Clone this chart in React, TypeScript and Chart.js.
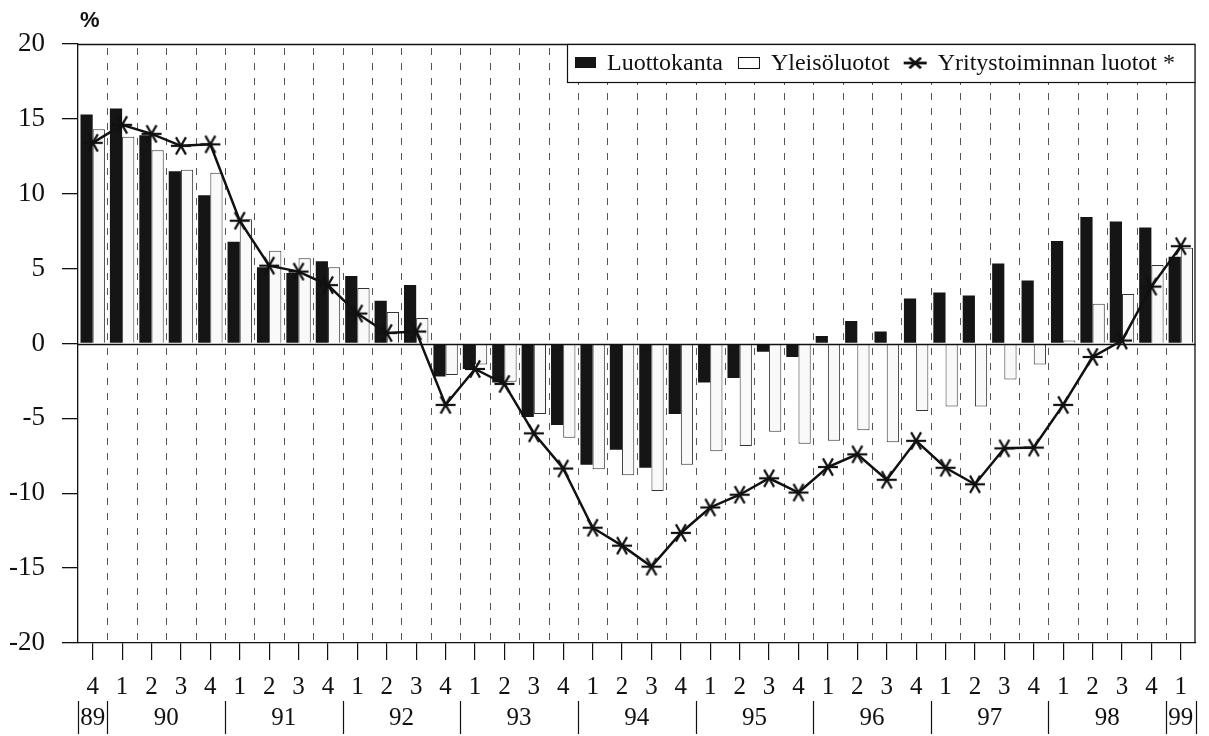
import React, { useEffect, useRef } from 'react';
import { Chart, registerables } from 'chart.js';

Chart.register(...registerables);

const quarterLabels = [
  '4',
  '1', '2', '3', '4',
  '1', '2', '3', '4',
  '1', '2', '3', '4',
  '1', '2', '3', '4',
  '1', '2', '3', '4',
  '1', '2', '3', '4',
  '1', '2', '3', '4',
  '1', '2', '3', '4',
  '1', '2', '3', '4',
  '1',
];
const years = ['89', '90', '91', '92', '93', '94', '95', '96', '97', '98', '99'];
const quartersPerYear = [1, 4, 4, 4, 4, 4, 4, 4, 4, 4, 1];

const luottokanta = [
  15.3, 15.7, 13.9, 11.5, 9.9, 6.8, 5.1, 4.7, 5.5, 4.5, 2.85, 3.9,
  -2.2, -1.7, -2.6, -4.9, -5.45, -8.1, -7.1, -8.3, -4.7, -2.6, -2.3, -0.55, -0.9,
  0.5, 1.5, 0.8, 3.0, 3.4, 3.2, 5.35, 4.2, 6.85, 8.45, 8.15, 7.75, 5.8,
];
const yleisoluotot = [
  14.3, 13.8, 12.9, 11.6, 11.4, 8.3, 6.2, 5.7, 5.1, 3.7, 2.1, 1.7,
  -2.1, -1.4, -2.55, -4.7, -6.3, -8.4, -8.8, -9.85, -8.1, -7.2, -6.85, -5.9, -6.7,
  -6.5, -5.8, -6.6, -4.5, -4.2, -4.2, -2.4, -1.4, 0.2, 2.65, 3.3, 5.25, 6.4,
];
const yritysluotot = [
  13.4, 14.6, 14.0, 13.2, 13.3, 8.2, 5.2, 4.8, 3.9, 2.0, 0.7, 0.8,
  -4.1, -1.7, -2.7, -6.0, -8.35, -12.3, -13.5, -14.9, -12.65, -10.95, -10.1, -9.0, -9.95,
  -8.25, -7.4, -9.1, -6.5, -8.3, -9.4, -7.0, -6.95, -4.1, -0.9, 0.2, 3.8, 6.5,
];

const seriesNames = ['Luottokanta', 'Yleisöluotot', 'Yritystoiminnan luotot *'];
const yMin = -20;
const yMax = 20;
const yStep = 5;
const unitLabel = '%';

const SERIF = '"Liberation Serif", "Times New Roman", serif';
const SANS = '"Liberation Sans", Arial, sans-serif';
const INK = '#111';

function makeAsterisk(w: number, h: number, lw: number): HTMLCanvasElement {
  const c = document.createElement('canvas');
  c.width = w;
  c.height = h;
  const ctx = c.getContext('2d')!;
  ctx.strokeStyle = INK;
  ctx.lineWidth = lw;
  ctx.lineCap = 'butt';
  const cx = w / 2;
  const cy = h / 2;
  const rx = w / 2 - 1;
  const ry = h / 2 - 1;
  [0, 60, 120].forEach((deg) => {
    const a = (deg * Math.PI) / 180;
    ctx.beginPath();
    ctx.moveTo(cx - rx * Math.cos(a), cy - ry * Math.sin(a));
    ctx.lineTo(cx + rx * Math.cos(a), cy + ry * Math.sin(a));
    ctx.stroke();
  });
  return c;
}

const framePlugin = {
  id: 'frame',
  beforeDatasetsDraw(chart: any) {
    const { ctx, chartArea } = chart;
    const xs = chart.scales.x;
    ctx.save();
    ctx.strokeStyle = '#555';
    ctx.lineWidth = 1;
    ctx.setLineDash([7, 8]);
    for (let i = 1; i < quarterLabels.length; i++) {
      const x = Math.round((xs.getPixelForValue(i - 1) + xs.getPixelForValue(i)) / 2) + 0.5;
      ctx.beginPath();
      ctx.moveTo(x, chartArea.top + 4);
      ctx.lineTo(x, chartArea.bottom);
      ctx.stroke();
    }
    ctx.restore();
  },
  afterDatasetsDraw(chart: any) {
    const { ctx, chartArea } = chart;
    const ys = chart.scales.y;
    ctx.save();
    ctx.strokeStyle = INK;
    ctx.lineWidth = 1.3;
    const y0 = Math.round(ys.getPixelForValue(0)) + 0.5;
    ctx.beginPath();
    ctx.moveTo(chartArea.left, y0);
    ctx.lineTo(chartArea.right, y0);
    ctx.stroke();
    ctx.beginPath();
    ctx.moveTo(chartArea.left, chartArea.top + 0.5);
    ctx.lineTo(chartArea.right - 0.5, chartArea.top + 0.5);
    ctx.lineTo(chartArea.right - 0.5, chartArea.bottom);
    ctx.stroke();
    ctx.restore();
  },
  afterDraw(chart: any) {
    const { ctx, chartArea } = chart;
    const xs = chart.scales.x;
    ctx.save();
    ctx.fillStyle = INK;
    ctx.font = `bold 22px ${SANS}`;
    ctx.textAlign = 'left';
    ctx.textBaseline = 'middle';
    ctx.fillText(unitLabel, 80, 21);

    const half = (xs.getPixelForValue(1) - xs.getPixelForValue(0)) / 2;
    ctx.font = `25px ${SERIF}`;
    ctx.textAlign = 'center';
    ctx.textBaseline = 'middle';
    ctx.strokeStyle = INK;
    ctx.lineWidth = 1.2;
    let idx = 0;
    const bounds: number[] = [];
    years.forEach((yr, k) => {
      const n = quartersPerYear[k];
      const x0 = xs.getPixelForValue(idx) - half;
      const x1 = xs.getPixelForValue(idx + n - 1) + half;
      if (k === 0) bounds.push(x0);
      bounds.push(x1);
      ctx.fillText(yr, (x0 + x1) / 2, 718);
      idx += n;
    });
    bounds.forEach((bx) => {
      const x = Math.round(bx) + 0.5;
      ctx.beginPath();
      ctx.moveTo(x, 701);
      ctx.lineTo(x, 734);
      ctx.stroke();
    });

    const boxLeft = 567;
    const boxTop = chartArea.top;
    const boxRight = chartArea.right;
    const boxBottom = 82;
    ctx.fillStyle = '#fff';
    ctx.fillRect(boxLeft, boxTop, boxRight - boxLeft, boxBottom - boxTop);
    ctx.strokeStyle = INK;
    ctx.lineWidth = 1.2;
    ctx.strokeRect(boxLeft + 0.5, boxTop + 0.5, boxRight - boxLeft - 1, boxBottom - boxTop);
    const cy = (boxTop + boxBottom) / 2;
    ctx.font = `24px ${SERIF}`;
    ctx.textAlign = 'left';
    ctx.textBaseline = 'middle';
    let x = boxLeft + 8;
    ctx.fillStyle = '#151515';
    ctx.fillRect(x, cy - 6, 21, 11);
    x += 32;
    ctx.fillStyle = INK;
    ctx.fillText(seriesNames[0], x, cy + 1);
    x += ctx.measureText(seriesNames[0]).width + 15;
    ctx.fillStyle = '#fff';
    ctx.fillRect(x, cy - 6, 22, 11);
    ctx.lineWidth = 1;
    ctx.strokeRect(x + 0.5, cy - 5.5, 21, 11);
    x += 33;
    ctx.fillStyle = INK;
    ctx.fillText(seriesNames[1], x, cy + 1);
    x += ctx.measureText(seriesNames[1]).width + 13;
    const legStar = makeAsterisk(25, 14, 2.8);
    ctx.drawImage(legStar, x, cy - 7);
    x += 35;
    ctx.fillStyle = INK;
    ctx.fillText(seriesNames[2], x, cy + 1);
    ctx.restore();
  },
};

export default function App() {
  const canvasRef = useRef<HTMLCanvasElement | null>(null);

  useEffect(() => {
    if (!canvasRef.current) return;
    const star = makeAsterisk(22, 22, 2.2);
    const chart = new Chart(canvasRef.current, {
      type: 'bar',
      data: {
        labels: quarterLabels,
        datasets: [
          {
            type: 'line',
            label: seriesNames[2],
            data: yritysluotot,
            borderColor: INK,
            borderWidth: 2.5,
            pointStyle: star as any,
            pointRadius: 11,
            pointHoverRadius: 11,
            tension: 0,
            fill: false,
            order: 0,
          } as any,
          {
            type: 'bar',
            label: seriesNames[0],
            data: luottokanta,
            backgroundColor: '#151515',
            borderWidth: 0,
            barPercentage: 1,
            categoryPercentage: 0.83,
            order: 1,
          },
          {
            type: 'bar',
            label: seriesNames[1],
            data: yleisoluotot,
            backgroundColor: '#f9f9f9',
            borderColor: '#333',
            borderWidth: 1,
            barPercentage: 1,
            categoryPercentage: 0.83,
            order: 1,
          },
        ],
      },
      options: {
        animation: false,
        responsive: true,
        maintainAspectRatio: false,
        layout: { padding: { top: 44, right: 7, left: 0, bottom: 0 } },
        plugins: {
          legend: { display: false },
          tooltip: { enabled: false },
        },
        scales: {
          x: {
            grid: {
              display: true,
              drawOnChartArea: false,
              drawTicks: true,
              tickLength: 17,
              color: INK,
              offset: false,
              lineWidth: 1.2,
            },
            border: { display: true, color: INK, width: 1.3 },
            ticks: {
              color: INK,
              font: { family: SERIF, size: 25 },
              padding: 12,
              maxRotation: 0,
              autoSkip: false,
            },
            afterFit: (s: any) => {
              s.height = 93;
            },
          },
          y: {
            min: yMin,
            max: yMax,
            grid: {
              display: true,
              drawOnChartArea: false,
              drawTicks: true,
              tickLength: 16,
              color: INK,
              lineWidth: 1.3,
            },
            border: { display: true, color: INK, width: 1.3 },
            ticks: {
              stepSize: yStep,
              color: INK,
              font: { family: SERIF, size: 27 },
              padding: 17,
              callback: (v: any) => String(v),
            },
            afterFit: (s: any) => {
              s.width = 78;
            },
          },
        },
      },
      plugins: [framePlugin],
    });
    return () => chart.destroy();
  }, []);

  return (
    <div style={{ position: 'fixed', left: 0, top: 0, width: 1209, height: 736, background: '#fff' }}>
      <canvas ref={canvasRef} />
    </div>
  );
}
